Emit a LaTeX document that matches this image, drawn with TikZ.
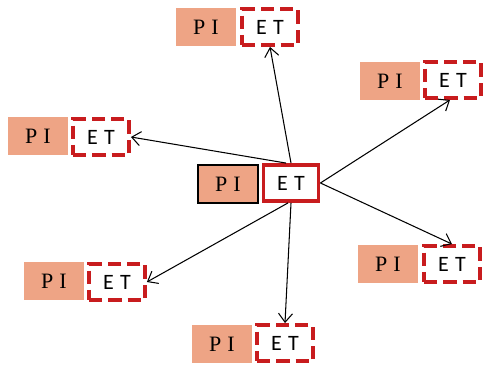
\documentclass[tikz,border=0pt]{standalone}
\usepackage{fontspec}
\setmainfont{Liberation Serif}
\newfontfamily\etfont{Carlito}
\usepackage{xcolor}
\usepackage{tikz}
\usetikzlibrary{arrows.meta}
\definecolor{salmon}{RGB}{238,164,133}
\definecolor{etred}{RGB}{200,28,30}
\tikzset{pibox/.style={fill=salmon,minimum width=1.2cm,minimum height=0.76cm,inner sep=0pt,font=\fontsize{12.5}{14}\selectfont},
etbox/.style={draw=etred,line width=2.2pt,dash pattern=on 7.5pt off 3.5pt,minimum width=1.12cm,minimum height=0.72cm,inner sep=0pt,font=\etfont\fontsize{12.5}{14}\selectfont}}

\begin{document}
\begin{tikzpicture}[x=0.02cm,y=-0.02cm,>={Straight Barb[length=5pt,width=8pt]}]
    \useasboundingbox (0,0) rectangle (483,367);
    \node[pibox,draw=black,line width=0.7pt] (cpi)at (228,184) {P\;I};
    \node[etbox,solid,minimum width=1.1cm,minimum height=0.72cm] (cet)at (291,183) {E\;T};

    \node[pibox] (tpi)at (206,27) {P\;I};
    \node[etbox] (tet)at (270,27) {E\;T};
    \node[pibox] (trpi)at (390,81) {P\;I};
    \node[etbox] (tret)at (453,80) {E\;T};
    \node[pibox] (lpi)at (38,136) {P\;I};
    \node[etbox] (let)at (101,137) {E\;T};
    \node[pibox] (brpi)at (388,264) {P\;I};
    \node[etbox] (bret)at (452,264) {E\;T};
    \node[pibox] (llpi)at (54,281) {P\;I};
    \node[etbox] (llet)at (117,282) {E\;T};
    \node[pibox] (bpi)at (222,344) {P\;I};
    \node[etbox] (bet)at (285,343) {E\;T};

    \draw [->,line width=0.6pt] (cet.north) to (tet.south);
    \draw [->,line width=0.6pt] ([xshift=-0.1cm]cet.north) to (let.east);
    \draw [->,line width=0.6pt] (cet.east) to ([xshift=-0.06cm]tret.south);
    \draw [->,line width=0.6pt] (cet.east) to (bret.north);
    \draw [->,line width=0.6pt] ([xshift=-0.06cm]cet.south) to (llet.east);
    \draw [->,line width=0.6pt] (cet.south) to (bet.north);
\end{tikzpicture}
\end{document}
